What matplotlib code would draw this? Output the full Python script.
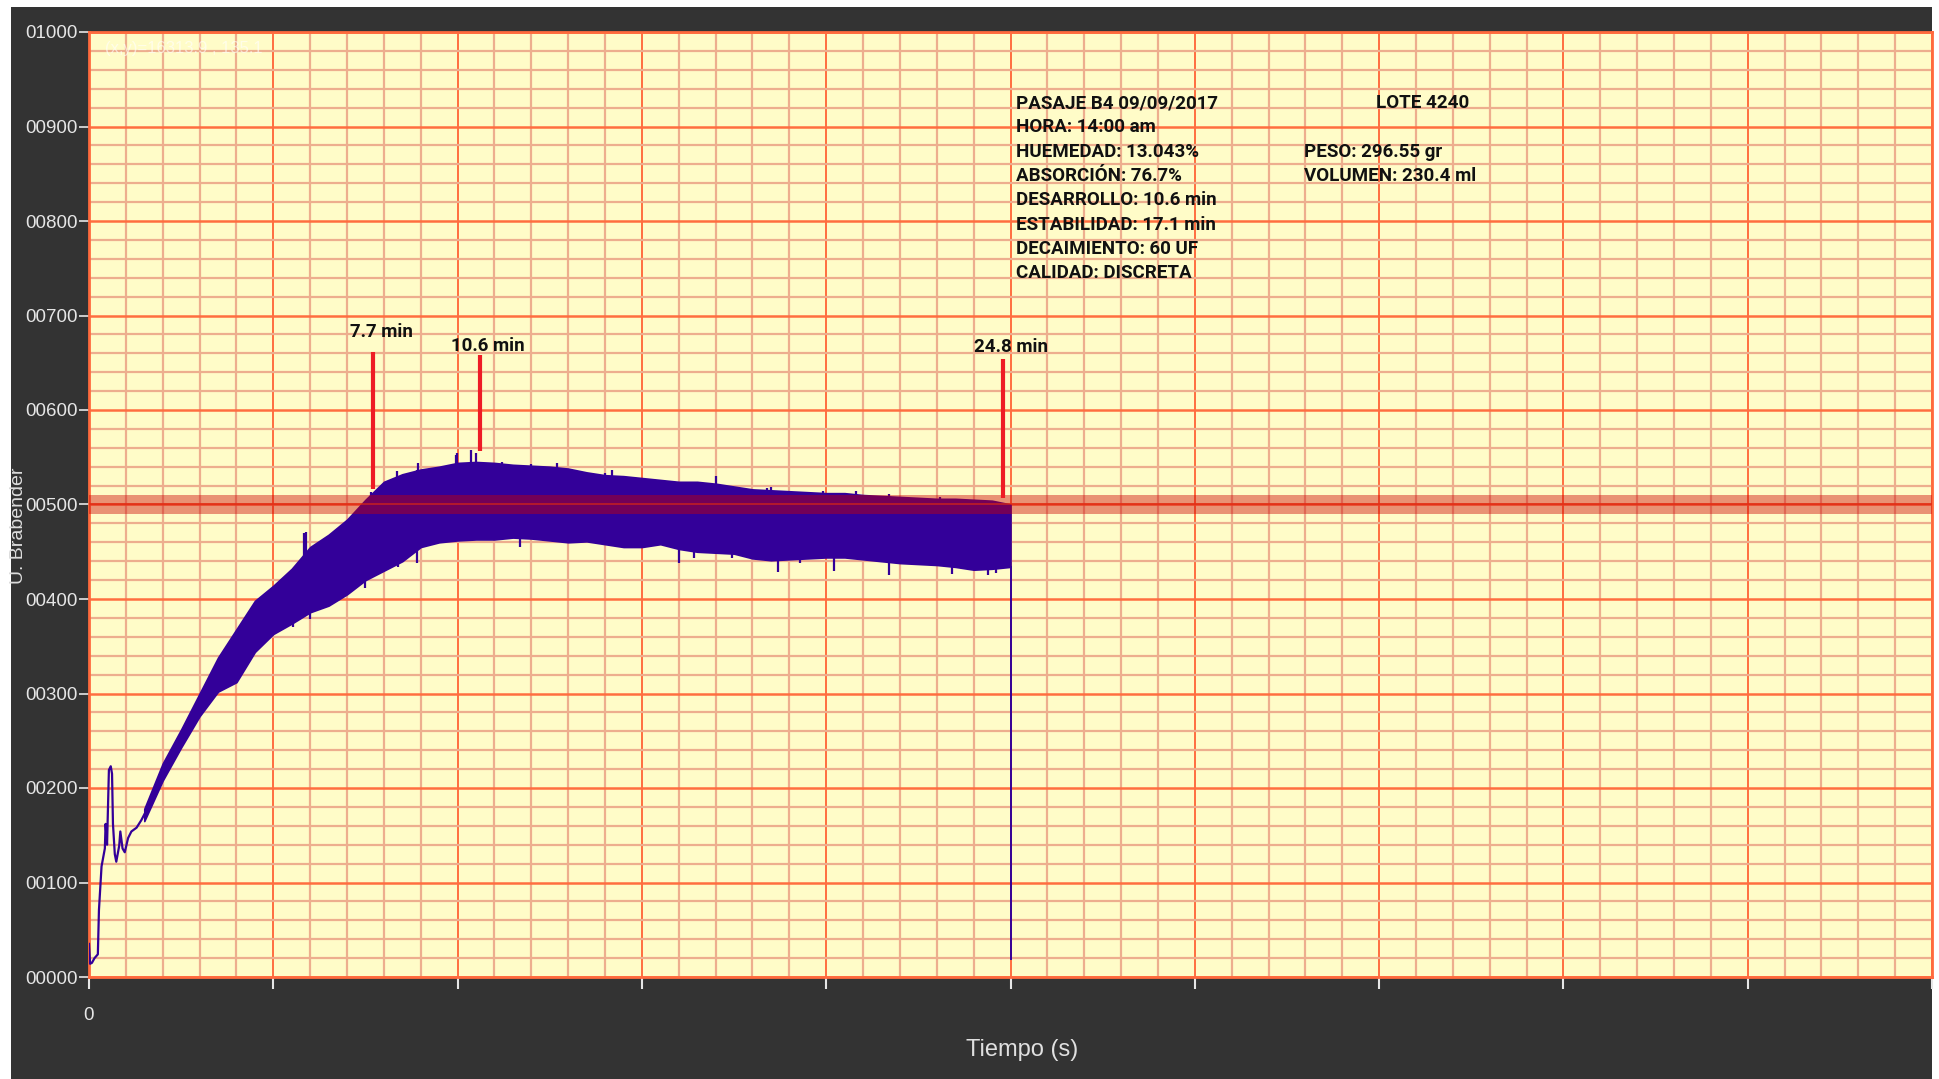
import numpy as np
import matplotlib.pyplot as plt
from matplotlib.patches import Rectangle
from matplotlib.ticker import MultipleLocator, FuncFormatter

# --- datos leidos del farinograma (tiempo en min, consistencia en UB) ---
# tramo inicial (linea fina)
t_inicio = [0.0, 0.03, 0.08, 0.15, 0.24, 0.27, 0.34, 0.43, 0.45, 0.49, 0.54, 0.59,
            0.625, 0.65, 0.70, 0.74, 0.82, 0.85, 0.91, 0.97, 1.06, 1.15, 1.29, 1.42, 1.5]
ub_inicio = [35, 14, 15, 20, 24, 71, 117, 136, 162, 140, 219, 223,
             215, 162, 130, 122, 139, 154, 136, 132, 147, 154, 158, 166, 172]

# envolvente de la zona con ruido
t_env = [1.5, 2.0, 2.5, 3.0, 3.5, 4.0, 4.5, 5.0, 5.5, 6.0, 6.5, 7.0, 7.5, 8.0,
         8.5, 9.0, 9.5, 10.0, 10.5, 11.0, 11.5, 12.0, 12.5, 13.0, 13.5, 14.0,
         14.5, 15.0, 15.5, 16.0, 16.5, 17.0, 17.5, 18.0, 18.5, 19.0, 19.5, 20.0,
         20.5, 21.0, 21.5, 22.0, 22.5, 23.0, 23.5, 24.0, 24.5, 25.0]
ub_sup = [178, 226, 262, 300, 338, 368, 398, 414, 432, 455, 468, 484, 505, 524,
          532, 537, 540, 544, 545, 544, 542, 541, 540, 538, 534, 531,
          530, 528, 526, 524, 524, 522, 519, 516, 515, 514, 513, 512,
          512, 510, 509, 508, 507, 506, 506, 505, 504, 500]
ub_inf = [165, 208, 243, 276, 302, 312, 344, 363, 374, 386, 393, 405, 420, 430,
          440, 455, 460, 462, 463, 463, 465, 464, 462, 460, 461, 458,
          455, 455, 458, 453, 450, 449, 448, 443, 441, 442, 443, 444,
          444, 442, 440, 438, 437, 436, 434, 431, 432, 434]

# picos sueltos
t_pico_sup = [5.83, 5.9, 7.64, 8.35, 8.9, 8.92, 9.97, 9.99, 10.37, 10.5, 11.2, 12.0,
              12.7, 12.9, 14.0, 14.2, 15.9, 17.0, 18.4, 18.5, 19.9, 20.8, 21.0,
              21.7, 23.1]
ub_pico_sup = [470, 471, 513, 535, 537, 544, 552, 554, 558, 555, 545, 543,
               544, 539, 533, 537, 520, 530, 517, 518, 514, 514, 510,
               511, 508]
t_pico_inf = [5.54, 6.0, 6.81, 7.49, 8.38, 8.65, 8.9, 11.7, 16.0, 16.4, 17.45,
              18.7, 19.3, 20.2, 21.7, 23.4, 24.4, 24.6]
ub_pico_inf = [370, 379, 401, 412, 434, 451, 438, 455, 438, 443, 443,
               429, 438, 430, 425, 426, 425, 428]

t_fin = 25.0
ub_caida = 19

# marcas
marca_t = [7.7, 10.6, 24.8]
marca_base = [516, 557, 507]
marca_tope = [661, 658, 654]
marca_txt = ['7.7 min', '10.6 min', '24.8 min']

linea_500 = 500
tolerancia = 10

info_izq = ['PASAJE B4 09/09/2017', 'HORA: 14:00 am', 'HUEMEDAD: 13.043%',
            'ABSORCIÓN: 76.7%', 'DESARROLLO: 10.6 min', 'ESTABILIDAD: 17.1 min',
            'DECAIMIENTO: 60 UF', 'CALIDAD: DISCRETA']
info_lote = 'LOTE 4240'
info_der = ['PESO: 296.55 gr', 'VOLUMEN: 230.4 ml']

# --- figura ---
W, H = 1939, 1079
fig = plt.figure(figsize=(W / 100, H / 100), dpi=100, facecolor='white')
fig.patches.append(Rectangle((11 / W, 0), (1932 - 11) / W, 1 - 7 / H,
                             transform=fig.transFigure, facecolor='#333333',
                             edgecolor='none', zorder=-10))

ax = fig.add_axes([89 / W, 1 - 977 / H, (1932 - 89) / W, (977 - 32) / H])
ax.set_zorder(5)
ax.set_facecolor('#FFFCC8')
ax.set_xlim(0, 3000)
ax.set_ylim(0, 1000)

ax.xaxis.set_major_locator(MultipleLocator(300))
ax.xaxis.set_minor_locator(MultipleLocator(60))
ax.yaxis.set_major_locator(MultipleLocator(100))
ax.yaxis.set_minor_locator(MultipleLocator(20))
ax.yaxis.set_major_formatter(FuncFormatter(lambda v, p: '%05d' % v))
ax.xaxis.set_major_formatter(FuncFormatter(lambda v, p: '0' if v == 0 else ''))

ax.set_axisbelow(True)
ax.grid(which='minor', color='#EDAE8E', linewidth=1.6)
ax.grid(which='major', axis='y', color='#FF6E40', linewidth=1.8)
ax.grid(which='major', axis='x', color='#FF6E40', linewidth=1.4)

for s in ax.spines.values():
    s.set_color('#FF6A3D')
    s.set_linewidth(2)

ax.tick_params(axis='y', which='major', colors='#E6E6E6', length=7, width=1.2,
               pad=1, labelsize=13.5)
ax.tick_params(axis='x', which='major', colors='#E6E6E6', length=8.5, width=1.5,
               pad=13, labelsize=13.5)
ax.tick_params(which='minor', length=0)
for lab in ax.get_yticklabels() + ax.get_xticklabels():
    lab.set_family('Liberation Sans')

azul = '#330099'
s = 60.0
ax.plot(np.array(t_inicio) * s, ub_inicio, color=azul, lw=1.6, zorder=3)
ax.fill_between(np.array(t_env) * s, ub_inf, ub_sup, color=azul, lw=1.2,
                edgecolor=azul, zorder=3)
ax.vlines(np.array(t_pico_sup) * s, np.array(ub_pico_sup) - 40, ub_pico_sup,
          color=azul, lw=1.6, zorder=3)
ax.vlines(np.array(t_pico_inf) * s, ub_pico_inf, np.array(ub_pico_inf) + 40,
          color=azul, lw=1.6, zorder=3)
ax.plot([t_fin * s, t_fin * s], [ub_inf[-1], ub_caida], color=azul, lw=1.4, zorder=3)

# franja de 500 UB
ax.axhspan(linea_500 - tolerancia, linea_500 + tolerancia, color='#CC0000',
           alpha=0.42, lw=0, zorder=4)
ax.axhline(linea_500, color='#E02A10', lw=1.2, alpha=0.7, zorder=4)

fuente = 'Roboto'

# marcas de tiempo
off_y = [8, 0, 2]
for t, b, tp, txt, oy in zip(marca_t, marca_base, marca_tope, marca_txt, off_y):
    ax.vlines(t * s, b, tp, color='#EE1C25', lw=3, zorder=5)
    ax.annotate(txt, (t * s, tp), xytext=(6, oy), textcoords='offset points',
                ha='center', va='bottom', fontsize=13.5, fontweight='bold',
                family=fuente, color='#111111', zorder=6)

# cuadro de informacion
dy = 24.3 / 945
y0 = 1 - (103 - 32) / 945
for i, txt in enumerate(info_izq):
    ax.text((1016 - 89) / 1843, y0 - i * dy, txt, transform=ax.transAxes,
            ha='left', va='center', fontsize=13.5, fontweight='bold',
            family=fuente, color='#111111')
ax.text((1376 - 89) / 1843, y0, info_lote, transform=ax.transAxes, ha='left',
        va='center', fontsize=13.5, fontweight='bold', family=fuente, color='#111111')
for i, txt in enumerate(info_der):
    ax.text((1304 - 89) / 1843, y0 - (i + 2) * dy, txt, transform=ax.transAxes,
            ha='left', va='center', fontsize=13.5, fontweight='bold',
            family=fuente, color='#111111')

# lectura del cursor
ax.text((105 - 89) / 1843, 1 - (48 - 32) / 945, '(x,y)=16313.9 , 135.1',
        transform=ax.transAxes, ha='left', va='center', fontsize=12,
        color='white', alpha=0.6, family='Liberation Sans')

fig.text(1022 / W, 1 - 1050 / H, 'Tiempo (s)', ha='center', va='center',
         fontsize=17, color='#E0E0E0', family='Liberation Sans')
fig.text(23 / W, 1 - 526 / H, 'U. Brabender', ha='center', va='baseline',
         rotation=90, rotation_mode='anchor', fontsize=14, color='#DDDDDD',
         family='Liberation Sans')

fig.savefig('out.png', dpi=100, facecolor='white')
